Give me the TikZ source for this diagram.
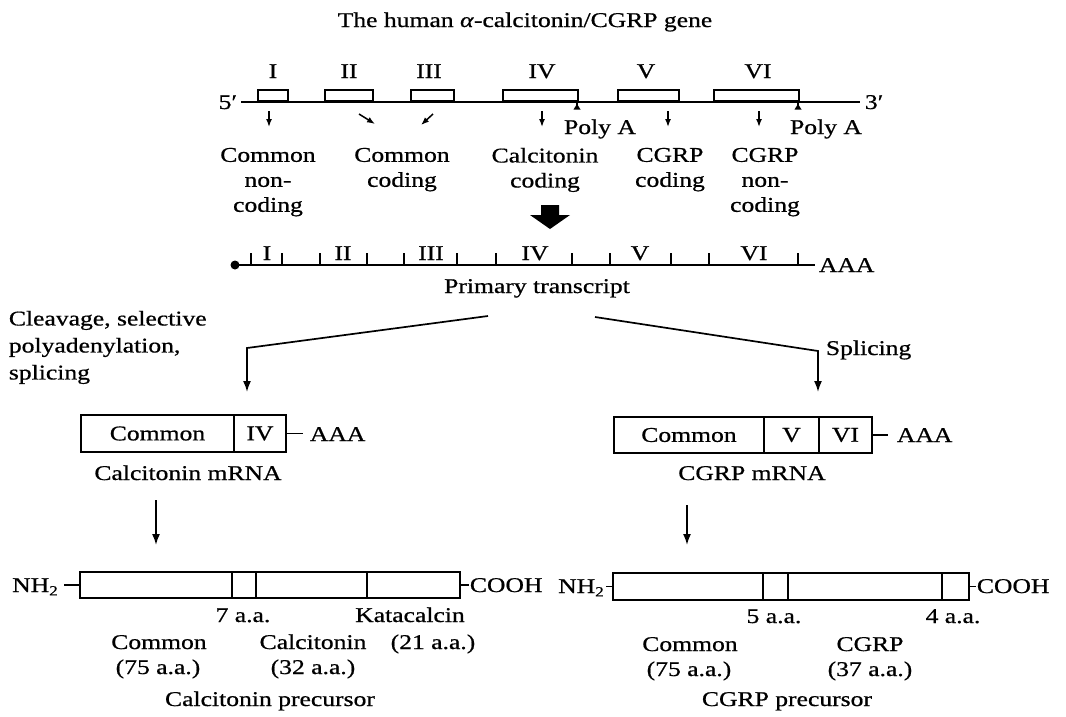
\documentclass[tikz,border=0pt]{standalone}
\usepackage{fontspec}
\setmainfont{Liberation Serif}[FakeStretch=1.22,FakeBold=0.7]
\usetikzlibrary{arrows.meta}
\newcommand{\mysubtwo}{\raisebox{-0.35ex}{\fontsize{14}{14}\selectfont 2}}
\begin{document}
\begin{tikzpicture}[x=1pt,y=-1pt,line width=1.8pt,
  lbl/.style={inner sep=0pt,font=\fontsize{21}{25}\selectfont,align=center},
  exon/.style={draw,line width=1.6pt,inner sep=0pt,minimum height=11pt,anchor=south west},
  seg/.style={draw,line width=1.6pt,inner sep=0pt,font=\fontsize{21}{25}\selectfont},
  smallarr/.style={-{Latex[length=8pt,width=6pt]},line width=1.5pt},
  arr/.style={-{Latex[length=11pt,width=8pt]},line width=1.7pt},
  tk/.style={line width=1.5pt}]
\useasboundingbox (0,0) rectangle (1066,716);

% title
\node[lbl,anchor=base] (title) at (525,27) {The human \textit{α}-calcitonin/CGRP gene};

% gene
\coordinate (g5) at (241,102);
\coordinate (g3) at (860,102);
\draw (g5) -- (g3);
\node[lbl,anchor=base east] (p5) at (238,109) {5′};
\node[lbl,anchor=base west] (p3) at (864,109) {3′};

\node[exon,minimum width=30pt] (e1) at (257,102) {};
\node[exon,minimum width=48pt] (e2) at (324,102) {};
\node[exon,minimum width=43pt] (e3) at (410,102) {};
\node[exon,minimum width=75pt] (e4) at (502,102) {};
\node[exon,minimum width=61pt] (e5) at (617,102) {};
\node[exon,minimum width=85pt] (e6) at (713,102) {};

\node[lbl,anchor=base] (r1) at (273,78) {I};
\node[lbl,anchor=base] (r2) at (349,78) {II};
\node[lbl,anchor=base] (r3) at (429,78) {III};
\node[lbl,anchor=base] (r4) at (542,78) {IV};
\node[lbl,anchor=base] (r5) at (646,78) {V};
\node[lbl,anchor=base] (r6) at (758,78) {VI};

% poly A marks
\coordinate (pa1) at (577,102);
\coordinate (pa1b) at (577,107);
\draw[tk] (pa1) -- (pa1b);
\fill (573.5,109.5) -- (577,104) -- (580.5,109.5) -- cycle;
\coordinate (pa2) at (798,102);
\coordinate (pa2b) at (798,107);
\draw[tk] (pa2) -- (pa2b);
\fill (794.5,109.5) -- (798,104) -- (801.5,109.5) -- cycle;
\node[lbl,anchor=base] (polya1) at (600,134) {Poly A};
\node[lbl,anchor=base] (polya2) at (826,134) {Poly A};

% small arrows
\coordinate (s1a) at (269,111); \coordinate (s1b) at (269,127);
\coordinate (s2a) at (359,114); \coordinate (s2b) at (375,124);
\coordinate (s3a) at (433,114); \coordinate (s3b) at (421,125);
\coordinate (s4a) at (542,111); \coordinate (s4b) at (542,127);
\coordinate (s5a) at (668,111); \coordinate (s5b) at (668,127);
\coordinate (s6a) at (759,111); \coordinate (s6b) at (759,127);
\foreach \i in {1,...,6} {\draw[smallarr] (s\i a) -- (s\i b);}

% exon labels
\node[lbl,anchor=north] (l1) at (268,147) {Common\\non-\\coding};
\node[lbl,anchor=north] (l2) at (402,147) {Common\\coding};
\node[lbl,anchor=north] (l3) at (545,147) {Calcitonin\\coding};
\node[lbl,anchor=north] (l4) at (670,147) {CGRP\\coding};
\node[lbl,anchor=north] (l5) at (765,147) {CGRP\\non-\\coding};

% big arrow
\fill (541,205) -- (559,205) -- (559,215) -- (570,215) -- (550,229) -- (530,215) -- (541,215) -- cycle;

% primary transcript
\coordinate (t0) at (235,265);
\coordinate (t1) at (815,265);
\fill (t0) circle (4.5);
\draw (t0) -- (t1);
\foreach \x in {251,282,320,367,404,457,496,572,610,671,709,798} {\draw[tk] (\x,265) -- (\x,253);}
\node[lbl,anchor=base] (q1) at (267,260) {I};
\node[lbl,anchor=base] (q2) at (343,260) {II};
\node[lbl,anchor=base] (q3) at (431,260) {III};
\node[lbl,anchor=base] (q4) at (535,260) {IV};
\node[lbl,anchor=base] (q5) at (640,260) {V};
\node[lbl,anchor=base] (q6) at (754,260) {VI};
\node[lbl,anchor=base west] (aaa0) at (818,272) {AAA};
\node[lbl,anchor=base] (prim) at (537,293) {Primary transcript};

% branches
\coordinate (bl0) at (488,316);
\coordinate (bl1) at (247,348);
\coordinate (bl2) at (247,392);
\draw[arr] (bl0) -- (bl1) -- (bl2);
\coordinate (br0) at (595,317);
\coordinate (br1) at (818,351);
\coordinate (br2) at (818,392);
\draw[arr] (br0) -- (br1) -- (br2);
\node[lbl,anchor=north west,align=left,font=\fontsize{21}{27}\selectfont] (cleav) at (8,310) {Cleavage, selective\\polyadenylation,\\splicing};
\node[lbl,anchor=base west] (splic) at (825,355) {Splicing};

% calcitonin mRNA
\node[seg,minimum width=153pt,minimum height=37pt] (cm1) at (157.5,433.5) {Common};
\node[seg,minimum width=52pt,minimum height=37pt] (cm2) at (260,433.5) {IV};
\coordinate (cmd) at (303,433.5);
\draw[tk] (cm2.east) -- (cmd);
\node[lbl,anchor=base west] (cmaaa) at (309,441) {AAA};
\node[lbl,anchor=base] (cmlab) at (188,480) {Calcitonin mRNA};
\coordinate (ca0) at (156,500);
\coordinate (ca1) at (156,545);
\draw[arr] (ca0) -- (ca1);

% calcitonin precursor
\node[seg,minimum width=152pt,minimum height=26pt] (cp1) at (156,585) {};
\node[seg,minimum width=24pt,minimum height=26pt] (cp2) at (244,585) {};
\node[seg,minimum width=111pt,minimum height=26pt] (cp3) at (311.5,585) {};
\node[seg,minimum width=93pt,minimum height=26pt] (cp4) at (413.5,585) {};
\node[lbl,anchor=base] (cnh) at (35,592) {NH\mysubtwo};
\coordinate (cnhd) at (64,585);
\draw[tk] (cnhd) -- (cp1.west);
\coordinate (ccod) at (469,585);
\draw[tk] (cp4.east) -- (ccod);
\node[lbl,anchor=base west] (ccooh) at (469,592) {COOH};
\node[lbl,anchor=base] (c7) at (243,622) {7 a.a.};
\node[lbl,anchor=base] (ckat) at (410,622) {Katacalcin};
\node[lbl,anchor=base] (ccom) at (159,649) {Common};
\node[lbl,anchor=base] (c75) at (158,674) {(75 a.a.)};
\node[lbl,anchor=base] (ccal) at (313,649) {Calcitonin};
\node[lbl,anchor=base] (c32) at (313,674) {(32 a.a.)};
\node[lbl,anchor=base] (c21) at (433,649) {(21 a.a.)};
\node[lbl,anchor=base] (cprec) at (270,706) {Calcitonin precursor};

% CGRP mRNA
\node[seg,minimum width=150pt,minimum height=36pt] (gm1) at (689,435) {Common};
\node[seg,minimum width=55pt,minimum height=36pt] (gm2) at (791.5,435) {V};
\node[seg,minimum width=53pt,minimum height=36pt] (gm3) at (845.5,435) {VI};
\coordinate (gmd) at (888,435);
\draw[tk] (gm3.east) -- (gmd);
\node[lbl,anchor=base west] (gmaaa) at (896,442) {AAA};
\node[lbl,anchor=base] (gmlab) at (752,480) {CGRP mRNA};
\coordinate (ga0) at (687,505);
\coordinate (ga1) at (687,545);
\draw[arr] (ga0) -- (ga1);

% CGRP precursor
\node[seg,minimum width=150pt,minimum height=27pt] (gp1) at (688,586.5) {};
\node[seg,minimum width=25pt,minimum height=27pt] (gp2) at (775.5,586.5) {};
\node[seg,minimum width=154pt,minimum height=27pt] (gp3) at (865,586.5) {};
\node[seg,minimum width=27pt,minimum height=27pt] (gp4) at (955.5,586.5) {};
\node[lbl,anchor=base] (gnh) at (581,593) {NH\mysubtwo};
\coordinate (gnhd) at (606,586.5);
\draw[tk] (gnhd) -- (gp1.west);
\coordinate (gcod) at (976,586.5);
\draw[tk] (gp4.east) -- (gcod);
\node[lbl,anchor=base west] (gcooh) at (976,593) {COOH};
\node[lbl,anchor=base] (g5aa) at (774,623) {5 a.a.};
\node[lbl,anchor=base] (g4aa) at (953,623) {4 a.a.};
\node[lbl,anchor=base] (gcom) at (690,651) {Common};
\node[lbl,anchor=base] (g75) at (689,676) {(75 a.a.)};
\node[lbl,anchor=base] (gcgrp) at (870,651) {CGRP};
\node[lbl,anchor=base] (g37) at (870,676) {(37 a.a.)};
\node[lbl,anchor=base] (gprec) at (787,706) {CGRP precursor};
\end{tikzpicture}
\end{document}
